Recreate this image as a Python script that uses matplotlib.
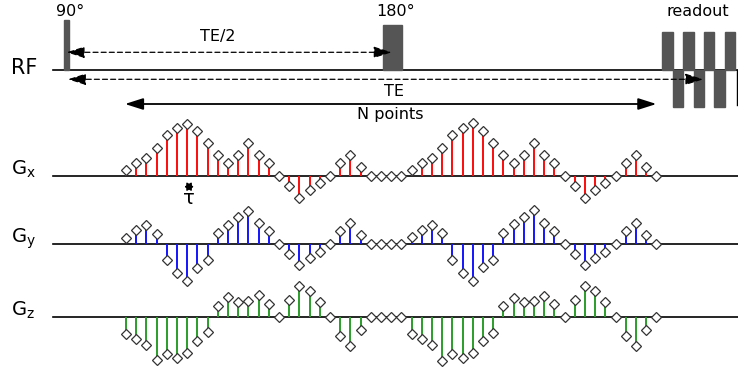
import numpy as np
import matplotlib
matplotlib.use('Agg')
import matplotlib.pyplot as plt
from matplotlib.patches import Rectangle

# gradient samples (amplitude, upward positive), one per tau step
gx = [6, 13, 18, 28, 41, 48, 52, 45, 33, 21, 13, 21, 33, 21, 13, 0, -10, -22, -14, -7,
      0, 13, 21, 9, 0, 0, 0, 0,
      6, 13, 18, 28, 41, 48, 53, 45, 33, 21, 13, 21, 33, 21, 13, 0, -10, -22, -14, -7,
      0, 13, 21, 9, 0]
gy = [6, 14, 19, 10, -16, -29, -37, -24, -16, 11, 19, 27, 33, 21, 13, 0, -10, -21, -14, -8,
      0, 13, 21, 9, 0, 0, 0, 0,
      7, 14, 19, 11, -16, -29, -37, -23, -16, 11, 20, 27, 34, 21, 13, 0, -10, -21, -14, -8,
      0, 13, 21, 9, 0]
gz = [-17, -22, -28, -43, -37, -41, -36, -24, -15, 11, 20, 15, 16, 22, 13, 0, 17, 31, 26, 15,
      0, -19, -29, -13, 0, 0, 0, 0,
      -17, -22, -28, -44, -37, -41, -36, -24, -16, 11, 19, 15, 16, 21, 13, 0, 17, 31, 26, 15,
      0, -19, -29, -13, 0]

channel_values = [gx, gy, gz]
channel_colors = ['#ff0a0a', '#1414ff', '#2a9d2a']
channel_labels = ['G$_{\\mathregular{x}}$', 'G$_{\\mathregular{y}}$', 'G$_{\\mathregular{z}}$']

# timing (units of tau)
t_90 = -5.8
t_180 = 26.1
n_readout = 7
t_readout = 52.58

# vertical layout (pixels from top)
y_rf = 69.5
y_base = [175.5, 244.3, 316.7]

fig = plt.figure(figsize=(7.38, 3.71), dpi=100)
ax = fig.add_axes([0, 0, 1, 1])
ax.set_xlim(-12.35, 60.0)
ax.set_ylim(371, 0)
ax.axis('off')

# RF line and pulses
ax.plot([-7.15, 60.0], [y_rf, y_rf], color='black', lw=1.2, zorder=1)
ax.add_patch(Rectangle((t_90 - 0.25, 20), 0.5, y_rf - 20, color='#555555', zorder=2))
ax.add_patch(Rectangle((t_180 - 0.93, 25), 1.86, y_rf - 25, color='#555555', zorder=2))
for i in range(n_readout):
    x0 = t_readout + i * 1.02
    if i % 2 == 0:
        ax.add_patch(Rectangle((x0, 32.3), 1.02, y_rf - 32.3, color='#555555', zorder=2))
    else:
        ax.add_patch(Rectangle((x0, y_rf), 1.02, 107.3 - y_rf, color='#555555', zorder=2))
ax.plot([59.9, 59.9], [y_rf, 105], color='black', lw=1.0, zorder=1)

ax.text(t_90 + 0.3, 11, '90°', fontsize=11.5, ha='center', va='center')
ax.text(t_180 + 0.3, 11, '180°', fontsize=11.5, ha='center', va='center')
ax.text(56.1, 11, 'readout', fontsize=11.5, ha='center', va='center')
ax.text(-10.0, 68, 'RF', fontsize=15, ha='center', va='center')

# timing arrows
dash = dict(arrowstyle='<|-|>,head_length=1.1,head_width=0.35', color='black',
            lw=0.9, linestyle=(0, (4, 2.5)), shrinkA=0, shrinkB=0)
ax.annotate('', xy=(t_180 - 0.05, 52.3), xytext=(t_90 - 0.02, 52.3), arrowprops=dash, zorder=4)
ax.annotate('', xy=(56.6, 79.3), xytext=(-5.69, 79.3), arrowprops=dash, zorder=4)
ax.text(9.0, 37, 'TE/2', fontsize=11.5, ha='center', va='center')
ax.text(26.3, 92, 'TE', fontsize=11.5, ha='center', va='center')

n_points = len(gx)
ax.annotate('', xy=(n_points - 1, 104), xytext=(-0.1, 104),
            arrowprops=dict(arrowstyle='<|-|>,head_length=1.1,head_width=0.35',
                            color='black', lw=1.3, shrinkA=0, shrinkB=0))
ax.text(25.9, 114, 'N points', fontsize=11.5, ha='center', va='center')

# gradient channels
t = np.arange(n_points)
for vals, color, label, base in zip(channel_values, channel_colors, channel_labels, y_base):
    vals = np.array(vals)
    ax.plot([-7.15, 60.0], [base, base], color='black', lw=1.2, zorder=1)
    nz = vals != 0
    ax.vlines(t[nz], base, base - vals[nz], colors=color, lw=1.4, zorder=2)
    ax.plot(t, base - vals, 'D', ms=5.3, mfc='white', mec='#333333', mew=0.9,
            ls='none', zorder=3)
    ax.text(-11.3, base - 6, label, fontsize=14, ha='left', va='center')

# tau marker
ax.annotate('', xy=(6.65, 186.7), xytext=(5.72, 186.7),
            arrowprops=dict(arrowstyle='<|-|>,head_length=0.4,head_width=0.25',
                            color='black', lw=1.0, shrinkA=0, shrinkB=0))
ax.text(6.18, 199, 'τ', fontsize=14, ha='center', va='center')

fig.savefig('out.png', dpi=100)
